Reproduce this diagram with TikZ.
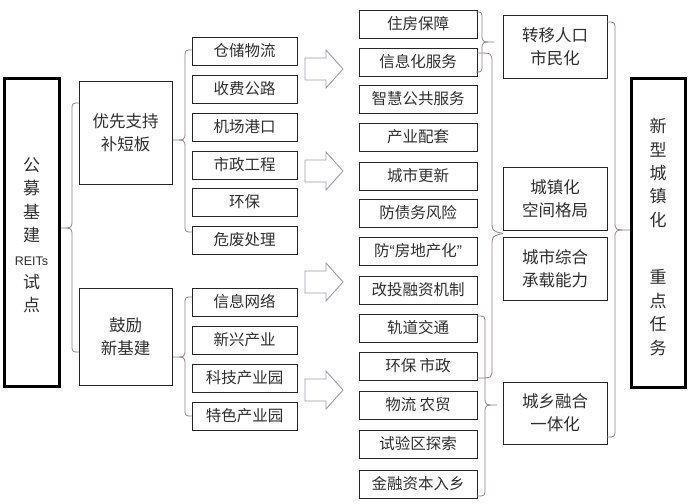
\documentclass[tikz,border=0pt]{standalone}
\usepackage{fontspec}
\setmainfont{Noto Sans CJK SC}
\newfontfamily\latinsf{Liberation Sans}
\definecolor{txt}{HTML}{2E2E2E}
\definecolor{brc}{HTML}{8E8088}
\definecolor{arc}{HTML}{9C9FA6}
\tikzset{
  box/.style={draw=black!85, line width=0.9pt, inner sep=0pt, outer sep=0pt, text=txt, font=\fontsize{15.5}{18}\selectfont},
  bigbox/.style={draw=black!85, line width=0.9pt, inner sep=0pt, outer sep=0pt, text=txt, align=center, font=\fontsize{16.5}{23}\selectfont},
  thickbox/.style={draw=black, line width=3pt, inner sep=0pt, outer sep=0pt},
  vtext/.style={text=txt, align=center, inner sep=0pt, font=\fontsize{17}{23.4}\selectfont},
  br/.style={draw=brc, line width=0.8pt},
  blockarrow/.style={draw=arc, line width=0.9pt, fill=white}
}
\newcommand\mybrace[6]{\draw[br] (#2,#4) .. controls (#1,#4) .. (#1,#4+8) -- (#1,#5-8) .. controls (#1,#5) .. (#3,#5) .. controls (#1,#5) .. (#1,#5+8) -- (#1,#6-8) .. controls (#1,#6) .. (#2,#6);}
\newcommand\myarrow[1]{\draw[blockarrow] (305,#1-11) -- (326,#1-11) -- (326,#1-19) -- (343,#1) -- (326,#1+19) -- (326,#1+11) -- (305,#1+11) -- cycle;}
\begin{document}
\begin{tikzpicture}[x=1pt,y=-1pt]
\useasboundingbox (0,0) rectangle (690,503);
% left thick box
\node[thickbox, minimum width=55pt, minimum height=308pt] (L) at (31.5,232) {};
\node[vtext] (Lt) at (31.5,235.5) {公\\募\\基\\建\\\latinsf\fontsize{12.5}{12}\selectfont REITs\\试\\点};
% level 2
\node[bigbox, minimum width=93pt, minimum height=103pt] (A) at (125.5,132.5) {优先支持\\补短板};
\node[bigbox, minimum width=93pt, minimum height=97pt] (B) at (125.5,336.5) {鼓励\\新基建};
% level 3
\foreach \n/\y/\t in {a1/51/仓储物流, a2/89/收费公路, a3/127/机场港口, a4/165/市政工程, a5/202/环保, a6/240/危废处理, b1/302/信息网络, b2/340/新兴产业, b3/378/科技产业园, b4/416/特色产业园}
  \node[box, minimum width=105pt, minimum height=28pt] (\n) at (244.5,\y) {\t};
% level 4
\foreach \n/\y/\t in {c1/24/住房保障, c2/62/信息化服务, c3/99/智慧公共服务, c4/137/产业配套, c5/176/城市更新, c6/213/防债务风险, c7/251/{防{\latinsf “}房地产化{\latinsf ”}}, c8/290/改投融资机制, c9/328/轨道交通, c10/366/环保 市政, c11/405/物流 农贸, c12/444/试验区探索, c13/484/金融资本入乡}
  \node[box, minimum width=118pt, minimum height=28pt] (\n) at (418,\y) {\t};
% level 5
\node[bigbox, minimum width=104pt, minimum height=63pt] (d1) at (555,46.5) {转移人口\\市民化};
\node[bigbox, minimum width=104pt, minimum height=63pt] (d2) at (555,198.5) {城镇化\\空间格局};
\node[bigbox, minimum width=104pt, minimum height=63pt] (d3) at (555,268.5) {城市综合\\承载能力};
\node[bigbox, minimum width=104pt, minimum height=62pt] (d4) at (555,413) {城乡融合\\一体化};
% right thick box
\node[thickbox, minimum width=54pt, minimum height=309pt] (R) at (658,232.5) {};
\node[vtext] (Rt1) at (658,173) {新\\型\\城\\镇\\化};
\node[vtext] (Rt2) at (658,312.5) {重\\点\\任\\务};
% braces
\mybrace{72}{79}{61}{103}{228}{352}
\mybrace{185}{192}{173}{50}{140}{232}
\mybrace{185}{192}{173}{297}{357}{416}
\mybrace{482}{476}{494}{12}{42}{72}
\mybrace{485}{477}{497}{316}{405}{496}
\mybrace{615}{607}{630}{22}{230}{437}
\draw[br] (477,53) .. controls (492,53) .. (492,63) -- (492,221) .. controls (492,231) .. (503,233.5);
\draw[br] (503,233.5) .. controls (492,236) .. (492,246) -- (492,369) .. controls (492,378) .. (477,378);
% block arrows
\myarrow{69}
\myarrow{171}
\myarrow{282}
\myarrow{390}
\end{tikzpicture}
\end{document}
